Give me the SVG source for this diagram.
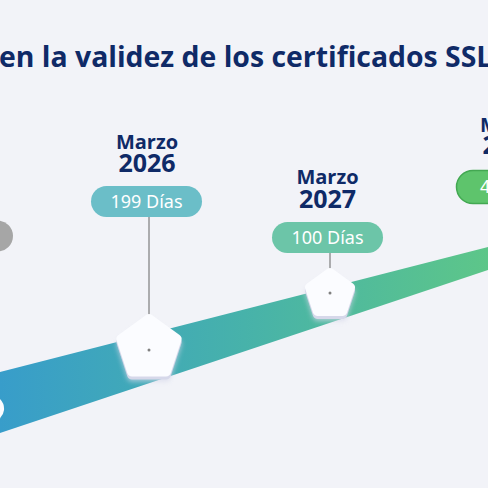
<svg xmlns="http://www.w3.org/2000/svg" width="488" height="488" viewBox="0 0 488 488">
  <defs>
    <linearGradient id="band" x1="0" y1="0" x2="488" y2="0" gradientUnits="userSpaceOnUse">
      <stop offset="0" stop-color="#389dca"/>
      <stop offset="0.5" stop-color="#47b2aa"/>
      <stop offset="1" stop-color="#5dc689"/>
    </linearGradient>
    <filter id="soft" x="-30%" y="-30%" width="160%" height="170%">
      <feGaussianBlur stdDeviation="2.5"/>
    </filter>
    <style>
      .title { font-family: "Open Sans", "Noto Sans", sans-serif; font-weight: 700; fill: #0f2a67; }
      .month { font-family: "Open Sans", "Noto Sans", sans-serif; font-weight: 700; fill: #0f2a67; font-size: 20px; text-anchor: middle; }
      .year { font-family: "Open Sans", "Noto Sans", sans-serif; font-weight: 700; fill: #0f2a67; font-size: 25px; text-anchor: middle; }
      .pilltext { font-family: "Noto Sans", "Open Sans", sans-serif; font-weight: 400; fill: #ffffff; font-size: 18px; text-anchor: middle; }
      .pent { fill: #fbfcff; stroke: #fbfcff; stroke-width: 10; stroke-linejoin: round; }
      .pentshadow { fill: #d6d8ea; stroke: #d6d8ea; stroke-width: 10; stroke-linejoin: round; }
      .stem { stroke: #646464; stroke-width: 1; fill: none; }
    </style>
  </defs>
  <rect width="488" height="488" fill="#f2f3f8"/>
  <text class="title" x="-1" y="67" font-size="28.4">en la validez de los certificados SSL</text>

  <g id="band-track">
    <path d="M0 372 L488 247 L488 270 L0 433 Z" fill="url(#band)"/>
  </g>

  <g id="connectors">
    <line class="stem" x1="149" y1="217" x2="149" y2="350"/>
    <line class="stem" x1="330" y1="253" x2="330" y2="293"/>
  </g>

  <g id="node-left">
    <rect x="-100" y="220.5" width="113" height="31" rx="15.5" fill="#a6a6a6"/>
    <path d="M-12 392 Q5 398 4 410 Q3 420 -12 425 Z" fill="#fbfcff"/>
  </g>

  <g id="node-2026">
    <text class="month" x="147" y="149">Marzo</text>
    <text class="year" x="147" y="172">2026</text>
    <rect x="91" y="186" width="111" height="31" rx="15.5" fill="#6bbec8"/>
    <text class="pilltext" x="146.5" y="208">199 Días</text>
    <g transform="translate(149 348)">
      <polygon class="pentshadow" points="0,-29 27.6,-9 17,23.5 -17,23.5 -27.6,-9" transform="translate(0 5)" filter="url(#soft)" opacity="0.7"/>
      <polygon class="pentshadow" points="0,-29 27.6,-9 17,23.5 -17,23.5 -27.6,-9" transform="translate(0 3)"/>
      <polygon class="pent" points="0,-29 27.6,-9 17,23.5 -17,23.5 -27.6,-9"/>
    </g>
    <circle cx="149" cy="350" r="1.5" fill="#808080"/>
  </g>

  <g id="node-2027">
    <text class="month" x="327.5" y="183.5">Marzo</text>
    <text class="year" x="327.5" y="207.5">2027</text>
    <rect x="272" y="222" width="111" height="31" rx="15.5" fill="#6cc5a8"/>
    <text class="pilltext" x="327.5" y="244">100 Días</text>
    <g transform="translate(330 294)">
      <polygon class="pentshadow" points="0,-21 20,-6.5 12.3,17 -12.3,17 -20,-6.5" transform="translate(0 5)" filter="url(#soft)" opacity="0.7"/>
      <polygon class="pentshadow" points="0,-21 20,-6.5 12.3,17 -12.3,17 -20,-6.5" transform="translate(0 3)"/>
      <polygon class="pent" points="0,-21 20,-6.5 12.3,17 -12.3,17 -20,-6.5"/>
    </g>
    <circle cx="330" cy="293" r="1.5" fill="#808080"/>
  </g>

  <g id="node-2029">
    <text class="month" x="511" y="131.5">Marzo</text>
    <text class="year" x="511" y="154">2029</text>
    <rect x="456.5" y="170.5" width="110" height="33" rx="16.5" fill="#5ec46c" stroke="#43a852" stroke-width="1.5"/>
    <text class="pilltext" x="511" y="193">47 Días</text>
  </g>
</svg>
